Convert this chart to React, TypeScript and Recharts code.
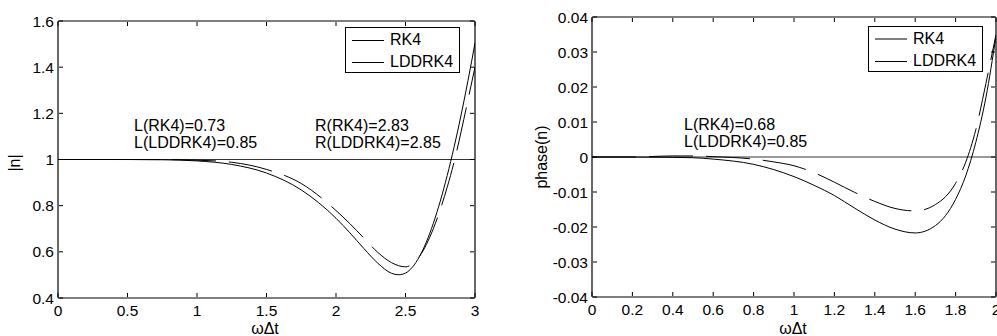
import { LineChart, Line, XAxis, YAxis, ReferenceLine } from "recharts";

// |G| (amplification) vs omega*dt
const magX = [0, 0.25, 0.5, 0.75, 1, 1.25, 1.5, 1.75, 2, 2.1, 2.2, 2.3, 2.4, 2.45, 2.5, 2.6, 2.7, 2.8, 2.85, 2.9, 2.95, 3];
const magRK4 = [1, 1, 0.9999, 0.9989, 0.9939, 0.9785, 0.9414, 0.8682, 0.7454, 0.6823, 0.6147, 0.5512, 0.507, 0.5007, 0.508, 0.579, 0.723, 0.9306, 1.0553, 1.193, 1.3431, 1.505];
const magLDD = [1, 1, 1, 0.9997, 0.997, 0.988, 0.957, 0.896, 0.779, 0.722, 0.66, 0.598, 0.553, 0.54, 0.535, 0.58, 0.7, 0.88, 0.99, 1.12, 1.26, 1.4];

// phase error vs omega*dt
const phaseX = [0, 0.2, 0.4, 0.5, 0.6, 0.8, 0.9, 1, 1.1, 1.2, 1.3, 1.4, 1.5, 1.6, 1.7, 1.8, 1.85, 1.9, 1.95, 2];
const phaseRK4 = [0, 0, -0.0001, -0.0002, -0.0006, -0.0021, -0.0036, -0.0056, -0.0081, -0.011, -0.0146, -0.018, -0.0206, -0.0217, -0.0196, -0.0121, -0.0054, 0.0042, 0.017, 0.0345];
const phaseLDD = [0, 0, 0.0003, 0.0003, 0.0001, -0.0006, -0.0014, -0.0025, -0.0045, -0.0072, -0.0101, -0.0127, -0.0147, -0.0154, -0.0136, -0.0075, -0.0015, 0.0078, 0.021, 0.035];

const magXTicks = [0, 0.5, 1, 1.5, 2, 2.5, 3];
const magYTicks = [0.4, 0.6, 0.8, 1, 1.2, 1.4, 1.6];
const phaseXTicks = [0, 0.2, 0.4, 0.6, 0.8, 1, 1.2, 1.4, 1.6, 1.8, 2];
const phaseYTicks = [-0.04, -0.03, -0.02, -0.01, 0, 0.01, 0.02, 0.03, 0.04];

const FONT = "'Liberation Sans', Arial, sans-serif";
const fmt = (v: number) => String(Number(v.toFixed(3)));

const magData = magX.map((x, i) => ({ x, rk4: magRK4[i], ldd: magLDD[i] }));
const phaseData = phaseX.map((x, i) => ({ x, rk4: phaseRK4[i], ldd: phaseLDD[i] }));

// MATLAB style: ticks point into the plot box
const BottomTick = (p: any) => (
  <g>
    <line x1={p.x} x2={p.x} y1={p.y - 1} y2={p.y - 5} stroke="#000" />
    <text x={p.x} y={p.y + 17.5} textAnchor="middle" fontSize={15.5} fontFamily={FONT} fill="#000">
      {fmt(p.payload.value)}
    </text>
  </g>
);
const TopTick = (p: any) => <line x1={p.x} x2={p.x} y1={p.y + 1} y2={p.y + 5} stroke="#000" />;
const LeftTick = (p: any) => (
  <g>
    <line x1={p.x + 1} x2={p.x + 5} y1={p.y} y2={p.y} stroke="#000" />
    <text x={p.x - 4} y={p.y + 5.5} textAnchor="end" fontSize={15.5} fontFamily={FONT} fill="#000">
      {fmt(p.payload.value)}
    </text>
  </g>
);
const RightTick = (p: any) => <line x1={p.x - 1} x2={p.x - 5} y1={p.y} y2={p.y} stroke="#000" />;

const LegendBox = ({ left, top, rkColor }: { left: number; top: number; rkColor: string }) => (
  <div
    style={{
      position: "absolute",
      left,
      top,
      width: 113,
      height: 44,
      border: "1px solid #000",
      background: "#fff",
      fontFamily: FONT,
      fontSize: 16,
      color: "#000",
    }}
  >
    {[
      { name: "RK4", color: rkColor },
      { name: "LDDRK4", color: "#000" },
    ].map((e, i) => (
      <div key={e.name} style={{ position: "absolute", left: 6, top: 3 + i * 22, height: 18, display: "flex", alignItems: "center" }}>
        <div style={{ width: 32, height: 0, borderTop: `${i === 0 && rkColor !== "#000" ? 2 : 1}px solid ${e.color}` }} />
        <span style={{ marginLeft: 6, lineHeight: "18px" }}>{e.name}</span>
      </div>
    ))}
  </div>
);

const axisCommon = {
  type: "number" as const,
  tickLine: false,
  tickSize: 0,
  tickMargin: 0,
  interval: 0 as const,
  allowDataOverflow: true,
  axisLine: { stroke: "#000", strokeWidth: 1.2 },
};

export default function App() {
  return (
    <div style={{ position: "absolute", left: 0, top: 0, width: 997, height: 336, overflow: "hidden", background: "#fff" }}>
      <div style={{ position: "absolute", left: 0, top: 0 }}>
        <LineChart width={500} height={336} data={magData} margin={{ top: 20, left: 57, right: 24, bottom: 37 }}>
          <XAxis dataKey="x" {...axisCommon} domain={[0, 3]} ticks={magXTicks} height={1} tick={BottomTick} />
          <XAxis xAxisId="top" orientation="top" dataKey="x" {...axisCommon} domain={[0, 3]} ticks={magXTicks} height={1} tick={TopTick} />
          <YAxis {...axisCommon} domain={[0.4, 1.6]} ticks={magYTicks} width={1} tick={LeftTick} />
          <YAxis yAxisId="right" orientation="right" {...axisCommon} domain={[0.4, 1.6]} ticks={magYTicks} width={1} tick={RightTick} />
          <ReferenceLine y={1} stroke="#000" strokeWidth={0.8} />
          <Line dataKey="rk4" type="monotone" stroke="#000" strokeWidth={1} dot={false} isAnimationActive={false} />
          <Line dataKey="ldd" type="monotone" stroke="#000" strokeWidth={1} strokeDasharray="44 13" dot={false} isAnimationActive={false} />
          <text x={134} y={131} fontSize={16} fontFamily={FONT} fill="#000">L(RK4)=0.73</text>
          <text x={134} y={148} fontSize={16} fontFamily={FONT} fill="#000">L(LDDRK4)=0.85</text>
          <text x={315} y={131} fontSize={16} fontFamily={FONT} fill="#000">R(RK4)=2.83</text>
          <text x={315} y={148} fontSize={16} fontFamily={FONT} fill="#000">R(LDDRK4)=2.85</text>
          <text x={265} y={334} textAnchor="middle" fontSize={16} fontFamily={FONT} fill="#000">ωΔt</text>
          <text x={14} y={163} textAnchor="middle" dominantBaseline="central" transform="rotate(-90 14 163)" fontSize={16} fontFamily={FONT} fill="#000">|n|</text>
        </LineChart>
        <LegendBox left={345} top={27} rkColor="#000" />
      </div>
      <div style={{ position: "absolute", left: 500, top: 0 }}>
        <LineChart width={520} height={336} data={phaseData} margin={{ top: 16, left: 91, right: 23, bottom: 38 }}>
          <XAxis dataKey="x" {...axisCommon} domain={[0, 2]} ticks={phaseXTicks} height={1} tick={BottomTick} />
          <XAxis xAxisId="top" orientation="top" dataKey="x" {...axisCommon} domain={[0, 2]} ticks={phaseXTicks} height={1} tick={TopTick} />
          <YAxis {...axisCommon} domain={[-0.04, 0.04]} ticks={phaseYTicks} width={1} tick={LeftTick} />
          <YAxis yAxisId="right" orientation="right" {...axisCommon} domain={[-0.04, 0.04]} ticks={phaseYTicks} width={1} tick={RightTick} />
          <ReferenceLine y={0} stroke="#000" strokeWidth={0.8} />
          <Line dataKey="rk4" type="monotone" stroke="#000" strokeWidth={1} dot={false} isAnimationActive={false} />
          <Line dataKey="ldd" type="monotone" stroke="#000" strokeWidth={1} strokeDasharray="44 13" dot={false} isAnimationActive={false} />
          <text x={184} y={130} fontSize={16} fontFamily={FONT} fill="#000">L(RK4)=0.68</text>
          <text x={184} y={147} fontSize={16} fontFamily={FONT} fill="#000">L(LDDRK4)=0.85</text>
          <text x={293} y={334} textAnchor="middle" fontSize={16} fontFamily={FONT} fill="#000">ωΔt</text>
          <text x={41} y={157} textAnchor="middle" dominantBaseline="central" transform="rotate(-90 41 157)" fontSize={16} fontFamily={FONT} fill="#000">phase(n)</text>
        </LineChart>
        <LegendBox left={368} top={26} rkColor="#808080" />
      </div>
    </div>
  );
}
